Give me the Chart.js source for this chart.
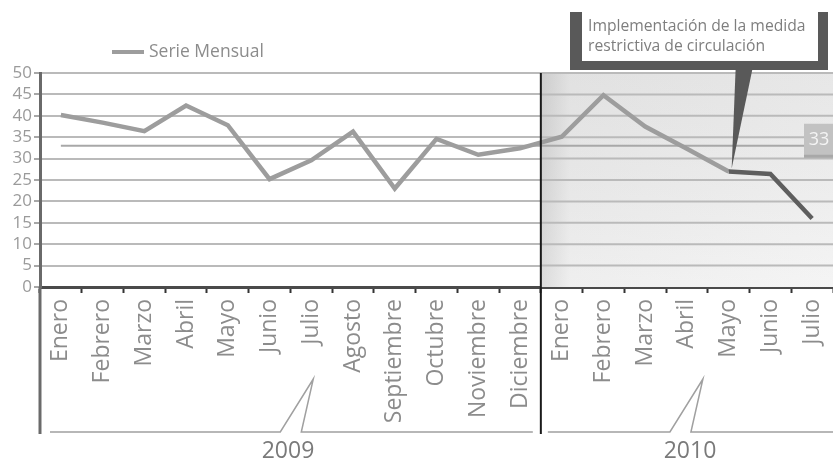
<!DOCTYPE html>
<html>
<head>
<meta charset="utf-8">
<script src="https://cdn.jsdelivr.net/npm/chart.js@4.4.1/dist/chart.umd.min.js"></script>
<style>
  html, body { margin: 0; padding: 0; background: #fff; }
  #wrap { width: 833px; height: 463px; }
</style>
</head>
<body>
<div id="wrap"><canvas id="chart" width="833" height="463"></canvas></div>
<script>
// Monthly series, 2009 and first half of 2010
const months2009 = ['Enero', 'Febrero', 'Marzo', 'Abril', 'Mayo', 'Junio', 'Julio',
  'Agosto', 'Septiembre', 'Octubre', 'Noviembre', 'Diciembre'];
const months2010 = ['Enero', 'Febrero', 'Marzo', 'Abril', 'Mayo', 'Junio', 'Julio'];
const serie2009 = [40.2, 38.4, 36.4, 42.4, 37.8, 25.2, 29.6, 36.3, 23.0, 34.6, 30.9, 32.4];
const serie2010 = [35.1, 44.8, 37.5, 32.3, 27.0, 26.4, 16.0];
const years = ['2009', '2010'];
const referencia = 33;
const yMax = 50;
const yStep = 5;
const legendLabel = 'Serie Mensual';
const nota = ['Implementación de la medida', 'restrictiva de circulación'];
const notaIndex = 12 + 4; // Mayo 2010, start of the measure

const labels = months2009.concat(months2010);
const values = serie2009.concat(serie2010);

const FONT = '"Open Sans", "Noto Sans", sans-serif';
const TEXT = '#8c8c8c';
const LINE = '#9d9d9d';
const DARK = '#595959';

// background shading for 2010, divider, reference line, legend
const decorPlugin = {
  id: 'decor',
  beforeDatasetsDraw(chart) {
    const { ctx, chartArea: a, scales: { x, y } } = chart;
    const split = x.getPixelForValue(months2009.length - 0.5);

    ctx.save();
    const g = ctx.createLinearGradient(split, 0, a.right, 0);
    g.addColorStop(0, '#d2d2d2');
    g.addColorStop(0.1, '#ebebeb');
    g.addColorStop(1, '#f2f2f2');
    ctx.fillStyle = g;
    ctx.fillRect(split, a.top, a.right - split, a.bottom - a.top);
    const gv = ctx.createLinearGradient(0, a.top, 0, a.bottom);
    gv.addColorStop(0, 'rgba(170,170,170,0.15)');
    gv.addColorStop(1, 'rgba(255,255,255,0.2)');
    ctx.fillStyle = gv;
    ctx.fillRect(split, a.top, a.right - split, a.bottom - a.top);

    // redraw horizontal grid on top of the shading
    ctx.strokeStyle = '#bababa';
    ctx.lineWidth = 2;
    for (let v = yStep; v <= yMax; v += yStep) {
      const py = y.getPixelForValue(v);
      ctx.beginPath();
      ctx.moveTo(split, py);
      ctx.lineTo(a.right, py);
      ctx.stroke();
    }

    // reference line
    const ry = y.getPixelForValue(referencia);
    ctx.strokeStyle = '#a8a8a8';
    ctx.lineWidth = 2;
    ctx.beginPath();
    ctx.moveTo(x.getPixelForValue(0), ry);
    ctx.lineTo(a.right, ry);
    ctx.stroke();
    ctx.restore();
  },
  afterDatasetsDraw(chart) {
    const { ctx, chartArea: a, scales: { x, y } } = chart;
    const split = x.getPixelForValue(months2009.length - 0.5);
    const baseY = 432;

    ctx.save();
    // divider between years
    ctx.strokeStyle = '#1a1a1a';
    ctx.lineWidth = 2;
    ctx.beginPath();
    ctx.moveTo(split, a.top);
    ctx.lineTo(split, baseY + 2);
    ctx.stroke();

    // y axis extension under the labels
    ctx.strokeStyle = '#6a6a6a';
    ctx.lineWidth = 3;
    ctx.beginPath();
    ctx.moveTo(a.left, a.bottom);
    ctx.lineTo(a.left, baseY + 2);
    ctx.stroke();

    // year brackets with callouts
    ctx.strokeStyle = '#a0a0a0';
    ctx.lineWidth = 1.5;
    const brackets = [
      { from: a.left + 10, to: split - 8, tip: x.getPixelForValue(6) + 2, text: years[0], tx: 288 },
      { from: split + 7, to: a.right, tip: x.getPixelForValue(15) + 16, text: years[1], tx: 690 }
    ];
    brackets.forEach(b => {
      const l = b.tip - 33, r = b.tip - 12, tipY = 379;
      ctx.beginPath();
      ctx.moveTo(b.from, baseY);
      ctx.lineTo(l, baseY);
      ctx.lineTo(b.tip, tipY);
      ctx.lineTo(r, baseY);
      ctx.lineTo(b.to, baseY);
      ctx.stroke();
      ctx.fillStyle = '#7a7a7a';
      ctx.font = '23px ' + FONT;
      ctx.textAlign = 'center';
      ctx.textBaseline = 'middle';
      ctx.fillText(b.text, b.tx, 451);
    });

    // reference value tag
    const ry = y.getPixelForValue(referencia);
    ctx.fillStyle = '#c2c2c2';
    ctx.fillRect(a.right - 29, ry - 22, 29, 34);
    ctx.fillStyle = '#a8a8a8';
    ctx.fillRect(a.right - 29, ry + 9, 29, 3);
    ctx.fillStyle = '#f4f4f4';
    ctx.font = '18px ' + FONT;
    ctx.textAlign = 'center';
    ctx.textBaseline = 'middle';
    ctx.fillText(String(referencia), a.right - 14, ry - 6);

    // annotation box with pointer to Mayo 2010
    const px = x.getPixelForValue(notaIndex);
    const py = y.getPixelForValue(values[notaIndex]);
    const bx = 570, by = 12, bw = 258, bh = 58;
    ctx.fillStyle = DARK;
    ctx.beginPath();
    ctx.moveTo(px + 7, by + bh - 2);
    ctx.lineTo(px + 24, by + bh - 2);
    ctx.lineTo(px + 3, py - 3);
    ctx.closePath();
    ctx.fill();
    ctx.fillRect(bx, by, bw, bh);
    ctx.fillStyle = '#ffffff';
    ctx.fillRect(bx + 12, by, bw - 22, bh - 9);
    ctx.fillStyle = '#7e7e7e';
    ctx.font = '15.7px ' + FONT;
    ctx.textAlign = 'left';
    ctx.textBaseline = 'middle';
    ctx.fillText(nota[0], bx + 18, by + 15);
    ctx.fillText(nota[1], bx + 18, by + 35);

    // legend
    ctx.strokeStyle = LINE;
    ctx.lineWidth = 4;
    ctx.beginPath();
    ctx.moveTo(112, 52);
    ctx.lineTo(144, 52);
    ctx.stroke();
    ctx.fillStyle = TEXT;
    ctx.font = '17.5px ' + FONT;
    ctx.textAlign = 'left';
    ctx.fillText(legendLabel, 149, 52);
    ctx.restore();
  }
};

const ctx = document.getElementById('chart');
new Chart(ctx, {
  type: 'line',
  data: {
    labels: labels,
    datasets: [{
      label: legendLabel,
      data: values,
      borderColor: LINE,
      borderWidth: 4.5,
      pointRadius: 0,
      tension: 0,
      fill: false,
      segment: {
        borderColor: c => (c.p0DataIndex >= notaIndex ? '#5e5e5e' : LINE)
      }
    }]
  },
  options: {
    responsive: false,
    animation: false,
    layout: { padding: { top: 73, right: 0, left: 0, bottom: 0 } },
    plugins: {
      legend: { display: false },
      tooltip: { enabled: false }
    },
    scales: {
      x: {
        offset: true,
        grid: {
          offset: true,
          drawOnChartArea: false,
          tickLength: 6,
          tickWidth: 2,
          tickColor: '#333'
        },
        border: { color: '#4a4a4a', width: 3 },
        ticks: {
          autoSkip: false,
          minRotation: 90,
          maxRotation: 90,
          padding: 6,
          color: TEXT,
          font: { family: FONT, size: 23 }
        },
        afterFit: s => {
          s.height = 176;
          s.paddingLeft = 0;
          s.paddingRight = 0;
        }
      },
      y: {
        min: 0,
        max: yMax,
        grid: {
          color: c => (c.tick.value === 0 ? 'rgba(0,0,0,0)' : '#bababa'),
          lineWidth: 2,
          tickLength: 6,
          tickColor: '#8a8a8a',
          tickWidth: 1.5
        },
        border: { color: '#6a6a6a', width: 3 },
        ticks: {
          stepSize: yStep,
          autoSkip: false,
          padding: 2,
          color: '#9a9a9a',
          font: { family: FONT, size: 17 }
        },
        afterFit: s => {
          s.width = 40;
          s.paddingTop = 0;
          s.paddingBottom = 0;
        }
      }
    }
  },
  plugins: [decorPlugin]
});
</script>
</body>
</html>
